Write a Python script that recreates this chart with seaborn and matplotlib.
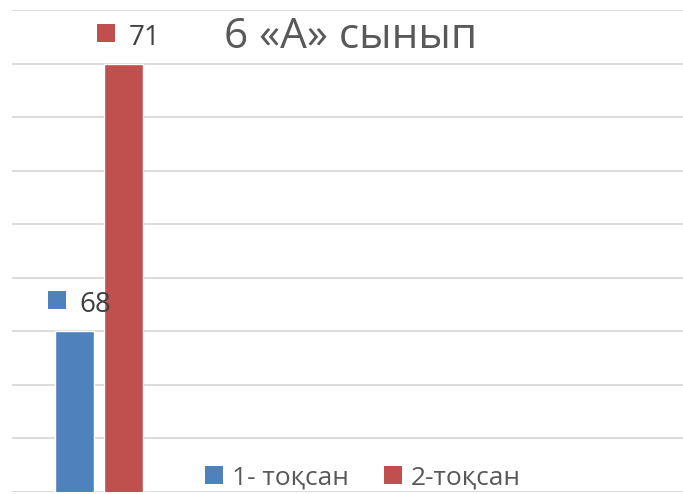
import matplotlib
matplotlib.use("Agg")
import matplotlib.pyplot as plt
import matplotlib.transforms as mtransforms
from matplotlib.patches import Patch
import numpy as np
import pandas as pd
import seaborn as sns

# ---- data ----
title = "6 «А» сынып"
classes = ["6 «А»", "6 «А»"]
quarters = ["1- тоқсан", "2-тоқсан"]
scores = [68, 71]
colors = ["#4F81BD", "#C0504D"]

sns.set_style("white")
plt.rcParams["font.family"] = ["Open Sans", "DejaVu Sans"]

TXT = "#595959"
LBL = "#404040"
W, H = 683, 494
fig = plt.figure(figsize=(W / 100, H / 100), dpi=100)
ax = fig.add_axes([12 / W, (H - 492) / H, (W - 12) / W, (492 - 10) / H])

df = pd.DataFrame({"class": classes, "quarter": quarters, "score": scores})
sns.barplot(data=df, x="class", y="score", hue="quarter", hue_order=quarters,
            palette=colors, width=0.8, gap=0.2, legend=False, ax=ax,
            saturation=1, zorder=3)

ax.set_ylim(66.2, 71.6)
ax.set_yticks(np.arange(66.2, 71.61, 0.6))
ax.set_xlim(-0.712, 4.773)
ax.grid(axis="y", color="#D9D9D9", linewidth=1.3, zorder=0)
ax.grid(axis="x", visible=False)
for s in ax.spines.values():
    s.set_visible(False)
ax.tick_params(left=False, bottom=False, labelleft=False, labelbottom=False)
ax.set_xlabel("")
ax.set_ylabel("")

# data labels with legend keys (offsets in pixels from bar top centre)
bars = [p for p in ax.patches if p.get_height() > 0]
for bar, val, col in zip(bars, scores, colors):
    xc = bar.get_x() + bar.get_width() / 2
    yt = bar.get_y() + bar.get_height()
    tr = mtransforms.offset_copy(ax.transData, fig=fig, x=-18, y=31, units="dots")
    ax.plot([xc], [yt], marker="s", markersize=18 * 0.72, color=col,
            markeredgewidth=0, transform=tr, clip_on=False, zorder=5)
    tr2 = mtransforms.offset_copy(ax.transData, fig=fig, x=5, y=19, units="dots")
    ax.text(xc, yt, str(val), transform=tr2, ha="left", va="baseline",
            fontsize=20, color=LBL, clip_on=False, zorder=5)

# title
fig.text(224 / W, 1 - 48 / H, title, ha="left", va="baseline",
         fontsize=30.5, color=TXT)

# legend
handles = [Patch(facecolor=c, edgecolor="none") for c in colors]
leg = fig.legend(handles, quarters, loc="center", ncol=2,
                 bbox_to_anchor=(363 / W, 1 - 478 / H),
                 frameon=False, fontsize=19, labelcolor=TXT,
                 handlelength=0.68, handleheight=0.68, handletextpad=0.34,
                 columnspacing=1.33, borderpad=0, borderaxespad=0)

fig.savefig("out.png", dpi=100)
